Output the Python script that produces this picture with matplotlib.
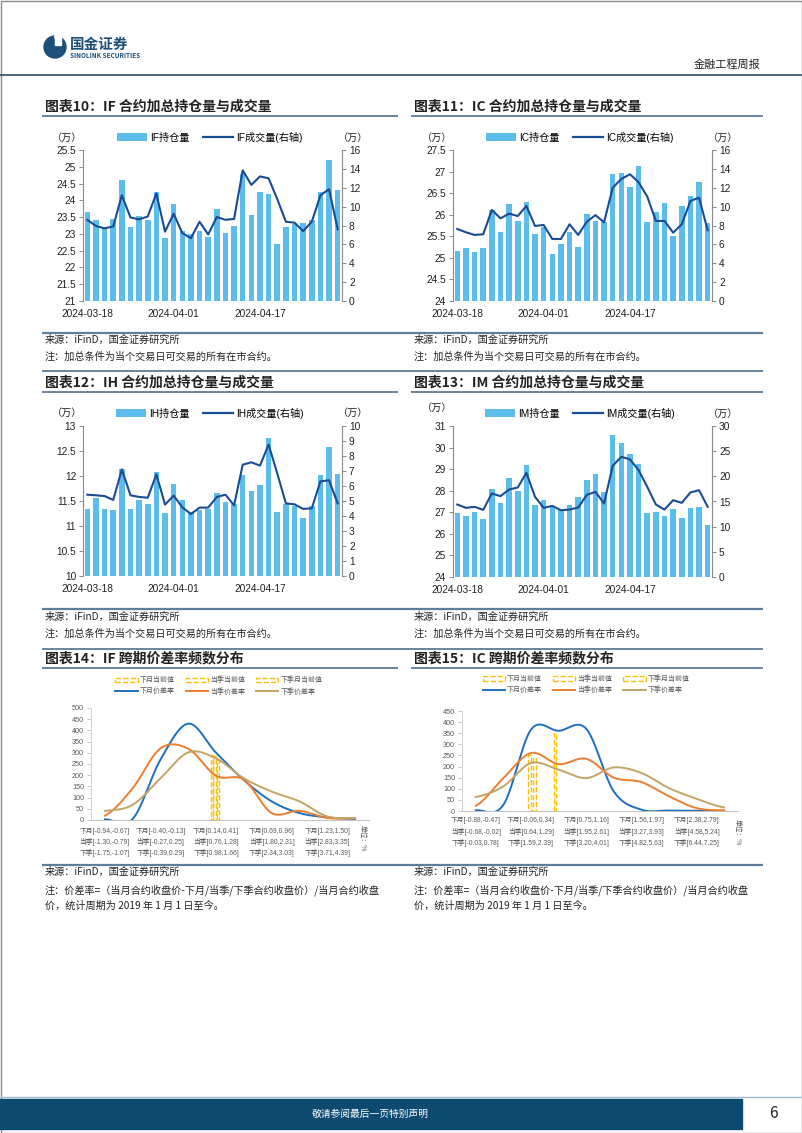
import numpy as np
import matplotlib
matplotlib.use('Agg')
import matplotlib.pyplot as plt
from matplotlib.patches import Rectangle, Circle, Patch
from matplotlib.lines import Line2D
from matplotlib.ticker import FuncFormatter

plt.rcParams['font.family'] = ['Liberation Sans', 'Noto Sans CJK SC']
plt.rcParams['axes.unicode_minus'] = False

W, H = 802, 1133

# ---------------- data ----------------
dates = ['2024-03-18', '2024-03-19', '2024-03-20', '2024-03-21', '2024-03-22',
         '2024-03-25', '2024-03-26', '2024-03-27', '2024-03-28', '2024-03-29',
         '2024-04-01', '2024-04-02', '2024-04-03', '2024-04-08', '2024-04-09',
         '2024-04-10', '2024-04-11', '2024-04-12', '2024-04-15', '2024-04-16',
         '2024-04-17', '2024-04-18', '2024-04-19', '2024-04-22', '2024-04-23',
         '2024-04-24', '2024-04-25', '2024-04-26', '2024-04-29', '2024-04-30']

if_hold = [23.66, 23.40, 23.20, 23.44, 24.61, 23.22, 23.52, 23.41, 24.24, 22.87,
           23.88, 23.08, 23.00, 23.10, 22.92, 23.75, 23.02, 23.24, 24.78, 23.56,
           24.26, 24.20, 22.70, 23.22, 23.30, 23.32, 23.40, 24.24, 25.21, 24.32]
if_vol = [8.6, 7.95, 7.7, 7.9, 11.2, 8.85, 8.65, 8.95, 11.4, 7.35,
          9.25, 7.2, 6.65, 8.4, 7.05, 8.9, 8.6, 8.7, 13.85, 12.3,
          13.2, 13.0, 10.8, 8.4, 8.3, 7.4, 8.4, 11.2, 11.85, 7.6]

ic_hold = [25.17, 25.22, 25.14, 25.24, 26.11, 25.61, 26.24, 25.85, 26.30, 25.55,
           25.72, 25.09, 25.31, 25.60, 25.25, 26.02, 25.85, 25.84, 26.94, 26.97,
           26.64, 27.12, 25.83, 26.06, 26.28, 25.50, 26.20, 26.43, 26.75, 25.80]
ic_vol = [7.63, 7.28, 7.0, 7.07, 9.65, 8.76, 9.26, 9.0, 10.07, 7.95,
          8.06, 6.57, 6.57, 8.13, 7.0, 8.4, 9.1, 8.34, 12.0, 12.93,
          13.43, 12.58, 11.06, 8.48, 8.48, 7.24, 8.13, 10.6, 10.95, 7.49]

ih_hold = [11.35, 11.56, 11.35, 11.32, 12.15, 11.35, 11.52, 11.45, 12.08, 11.27,
           11.84, 11.53, 11.28, 11.32, 11.35, 11.66, 11.49, 11.44, 12.03, 11.70,
           11.83, 12.77, 11.28, 11.45, 11.40, 11.17, 11.40, 12.03, 12.59, 12.05]
ih_vol = [5.42, 5.38, 5.33, 5.07, 7.11, 5.38, 5.27, 5.22, 6.78, 4.76,
          5.36, 4.58, 4.13, 4.56, 4.56, 5.27, 5.42, 4.71, 7.42, 7.58,
          7.36, 8.76, 6.84, 4.84, 4.78, 4.47, 4.51, 6.31, 6.38, 4.84]

im_hold = [26.97, 26.85, 27.00, 26.70, 28.06, 27.42, 28.57, 27.98, 29.19, 27.36,
           27.59, 27.28, 27.10, 27.36, 27.69, 28.49, 28.77, 27.94, 30.58, 30.20,
           29.68, 29.22, 26.96, 27.00, 26.82, 27.16, 26.73, 27.22, 27.25, 26.40]
im_vol = [14.4, 13.74, 13.94, 13.34, 16.6, 16.06, 17.39, 17.78, 20.7, 15.93,
          13.74, 14.13, 13.27, 13.4, 13.8, 16.32, 16.92, 14.6, 22.1, 23.89,
          23.36, 21.23, 17.92, 14.4, 13.4, 15.26, 14.73, 16.79, 17.25, 13.94]

# spread-rate frequency distributions (10 bins each)
if_next_month = [3, 5, 270, 430, 300, 178, 83, 31, 12, 5]
if_this_qtr = [19, 142, 320, 318, 197, 180, 31, 41, 9, 8]
if_next_qtr = [41, 68, 186, 302, 275, 186, 127, 83, 16, 9]
if_cur_pos = [3.85, 3.95, 4.07]
if_cur_val = [292, 285, 270]

ic_next_month = [3, 28, 366, 361, 370, 88, 6, 2, 1, 0]
ic_this_qtr = [24, 148, 261, 211, 235, 150, 130, 66, 13, 3]
ic_next_qtr = [63, 111, 216, 186, 148, 196, 171, 103, 55, 16]
ic_cur_pos = [1.95, 2.13, 2.87]
ic_cur_val = [250, 240, 352]

if_lab_m = ['[-0.94,-0.67]', '[-0.40,-0.13]', '[0.14,0.41]', '[0.69,0.96]', '[1.23,1.50]']
if_lab_q = ['[-1.30,-0.79]', '[-0.27,0.25]', '[0.76,1.28]', '[1.80,2.31]', '[2.83,3.35]']
if_lab_nq = ['[-1.75,-1.07]', '[-0.39,0.29]', '[0.98,1.66]', '[2.34,3.03]', '[3.71,4.39]']
ic_lab_m = ['[-0.88,-0.47]', '[-0.06,0.34]', '[0.75,1.16]', '[1.56,1.97]', '[2.38,2.79]']
ic_lab_q = ['[-0.68,-0.02]', '[0.64,1.29]', '[1.95,2.61]', '[3.27,3.93]', '[4.58,5.24]']
ic_lab_nq = ['[-0.03,0.78]', '[1.59,2.39]', '[3.20,4.01]', '[4.82,5.63]', '[6.44,7.25]']

# ---------------- styles ----------------
BAR_C = '#5CBCEC'
LINE_C = '#1A4B95'
RULE_C = '#3F6584'
TXT_C = '#222222'
BLUE = '#1F6FBF'
ORANGE = '#ED7D31'
BEIGE = '#C4A466'
YEL = '#FFC000'
GRAY = '#595959'

fig = plt.figure(figsize=(W / 100, H / 100), dpi=100)
bg = fig.add_axes([0, 0, 1, 1])
bg.set_xlim(0, W)
bg.set_ylim(H, 0)
bg.axis('off')


def rect_of(l, r, t, b):
    return [l / W, 1 - b / H, (r - l) / W, (b - t) / H]


def hline(y, x0, x1, color=RULE_C, lw=1.1):
    bg.plot([x0, x1], [y, y], color=color, lw=lw, solid_capstyle='butt')


def txt(x, y, s, size=7, **kw):
    kw.setdefault('va', 'center')
    kw.setdefault('ha', 'left')
    kw.setdefault('color', TXT_C)
    bg.text(x, y, s, fontsize=size, family=['Noto Sans CJK SC', 'DejaVu Sans'], **kw)


# page frame
bg.add_patch(Rectangle((0.5, 0.5), W - 1, H - 1, fill=False, ec='#8C8C8C', lw=1.0))

# header
bg.add_patch(Circle((55, 47), 11, color='#1B4F7A'))
bg.add_patch(Rectangle((55, 37), 6, 8, color='white'))
bg.add_patch(Circle((58, 37), 3.2, color='white'))
txt(70, 44, '国金证券', size=10.5, weight='bold', color='#1B4F7A')
txt(70, 55.5, 'SINOLINK SECURITIES', size=4.6, weight='bold', color='#1B4F7A')
txt(760, 65, '金融工程周报', size=8, ha='right')
hline(75, 0, W, color='#2E4B66', lw=1.2)


# section titles and rules
def title(x, y, s):
    bg.text(x, y, s, fontsize=10, weight='bold', style='italic', color=TXT_C,
            va='center', ha='left', family=['Noto Sans CJK SC', 'DejaVu Sans'])


title(45, 107, '图表10：IF 合约加总持仓量与成交量')
title(414, 107, '图表11：IC 合约加总持仓量与成交量')
hline(116, 42, 398)
hline(116, 411, 763)

title(45, 383, '图表12：IH 合约加总持仓量与成交量')
title(414, 383, '图表13：IM 合约加总持仓量与成交量')
hline(371, 42, 763)
hline(392, 42, 398)
hline(392, 411, 763)

title(45, 658, '图表14：IF 跨期价差率频数分布')
title(414, 658, '图表15：IC 跨期价差率频数分布')
hline(649, 42, 763)
hline(668, 42, 398)
hline(668, 411, 763)

# sources / notes
NS = 7.3
hline(333, 42, 763, color='#5D7F9C', lw=1.6)
hline(609, 42, 763, color='#5D7F9C', lw=1.6)
hline(865, 42, 763, color='#5D7F9C', lw=1.6)
for xx in (45, 414):
    txt(xx, 340, '来源：iFinD，国金证券研究所', size=NS)
    txt(xx, 357, '注：加总条件为当个交易日可交易的所有在市合约。', size=NS)
    txt(xx, 617, '来源：iFinD，国金证券研究所', size=NS)
    txt(xx, 634, '注：加总条件为当个交易日可交易的所有在市合约。', size=NS)
    txt(xx, 872, '来源：iFinD，国金证券研究所', size=NS)
    txt(xx, 890, '注：价差率=（当月合约收盘价-下月/当季/下季合约收盘价）/当月合约收盘', size=NS)
    txt(xx, 906, '价，统计周期为 2019 年 1 月 1 日至今。', size=NS)

# footer
hline(1097, 0, W, color='#9DBBD0', lw=1.0)
bg.add_patch(Rectangle((0, 1099), 742, 30, color='#0D4A70'))
txt(370, 1114, '敬请参阅最后一页特别声明', size=7, ha='center', color='white')
txt(773, 1114, '6', size=11, ha='center', color='#222222')


# ---------------- bar + line charts ----------------
def bar_chart(box, name, hold, vol, lims, lticks, rlims, rticks, wan_l, wan_r):
    l, r, t, b = box
    ax = fig.add_axes(rect_of(l, r, t, b))
    x = np.arange(len(hold))
    ax.bar(x, hold, width=0.64, color=BAR_C, zorder=2)
    ax.set_xlim(-0.5, len(hold) - 0.5)
    ax.set_ylim(*lims)
    ax.set_yticks(lticks)
    ax.yaxis.set_major_formatter(FuncFormatter(lambda v, p: f'{v:g}'))
    ax.set_xticks([0, 10, 20])
    ax.set_xticklabels([dates[0], dates[10], dates[20]])
    ax2 = ax.twinx()
    ax2.plot(x, vol, color=LINE_C, lw=1.5, zorder=3)
    ax2.set_ylim(*rlims)
    ax2.set_yticks(rticks)
    ax2.yaxis.set_major_formatter(FuncFormatter(lambda v, p: f'{v:g}'))
    for a in (ax, ax2):
        for s in ('top', 'bottom'):
            a.spines[s].set_visible(False)
        a.spines['left'].set_color('#8A8A8A')
        a.spines['right'].set_color('#8A8A8A')
        a.spines['left'].set_linewidth(0.8)
        a.spines['right'].set_linewidth(0.8)
    ax.spines['right'].set_visible(False)
    ax2.spines['left'].set_visible(False)
    ax.tick_params(axis='y', direction='out', length=3, width=0.7, color='#8A8A8A',
                   labelsize=7.3, pad=2, labelcolor=TXT_C)
    ax2.tick_params(axis='y', direction='out', length=3, width=0.7, color='#8A8A8A',
                    labelsize=7.3, pad=2, labelcolor=TXT_C)
    ax.tick_params(axis='x', length=0, labelsize=7.3, pad=6, labelcolor=TXT_C)
    handles = [Patch(facecolor=BAR_C, edgecolor='none'), Line2D([], [], color=LINE_C, lw=1.6)]
    ax2.legend(handles, [f'{name}持仓量', f'{name}成交量(右轴)'], loc='center',
               bbox_to_anchor=(0.49, 1.085), ncol=2, frameon=False, fontsize=7.3,
               handlelength=3.0, handleheight=0.85, columnspacing=1.3,
               handletextpad=0.3, borderpad=0, borderaxespad=0)
    txt(wan_l[0], wan_l[1], '（万）', size=7.3, ha='center')
    txt(wan_r[0], wan_r[1], '（万）', size=7.3, ha='center')


bar_chart((83, 342, 150, 301), 'IF', if_hold, if_vol, (21, 25.5), np.arange(21, 25.51, 0.5),
          (0, 16), np.arange(0, 16.1, 2), (67, 138), (353, 138))
bar_chart((453, 712, 150, 301), 'IC', ic_hold, ic_vol, (24, 27.5), np.arange(24, 27.51, 0.5),
          (0, 16), np.arange(0, 16.1, 2), (437, 138), (723, 138))
bar_chart((83, 342, 426, 576), 'IH', ih_hold, ih_vol, (10, 13), np.arange(10, 13.01, 0.5),
          (0, 10), np.arange(0, 10.1, 1), (67, 413), (353, 413))
bar_chart((453, 712, 426, 577), 'IM', im_hold, im_vol, (24, 31), np.arange(24, 31.1, 1),
          (0, 30), np.arange(0, 30.1, 5), (437, 408), (723, 414))


# ---------------- distribution charts ----------------
def smooth(vals, n=40):
    p = np.asarray(vals, float)
    xs, ys = [], []
    t = np.linspace(0, 1, n)
    for i in range(len(p) - 1):
        p0 = p[i - 1] if i > 0 else p[i]
        p3 = p[i + 2] if i + 2 < len(p) else p[i + 1]
        p1, p2 = p[i], p[i + 1]
        c1 = p1 + (p2 - p0) / 6
        c2 = p2 - (p3 - p1) / 6
        yy = (1 - t) ** 3 * p1 + 3 * (1 - t) ** 2 * t * c1 + 3 * (1 - t) * t ** 2 * c2 + t ** 3 * p2
        xs.append(i + t)
        ys.append(yy)
    return np.concatenate(xs), np.concatenate(ys)


def dist_chart(box, ymax, m, q, nq, cur_pos, cur_val, labs, row_y, unit_xy, leg_anchor):
    l, r, t, b = box
    ax = fig.add_axes(rect_of(l, r, t, b))
    ax.bar(cur_pos, cur_val, width=0.1, fill=False, edgecolor=YEL, linestyle='--', lw=1.0, zorder=2)
    for vals, c in ((m, BLUE), (q, ORANGE), (nq, BEIGE)):
        sx, sy = smooth(vals)
        ax.plot(sx, sy, color=c, lw=1.4, zorder=3)
    ax.set_xlim(-0.5, len(m) - 0.5)
    ax.set_ylim(0, ymax)
    ax.set_yticks(np.arange(0, ymax + 1, 50))
    ax.set_xticks([])
    for s in ('top', 'right'):
        ax.spines[s].set_visible(False)
    ax.spines['left'].set_color('#D0D0D0')
    ax.spines['bottom'].set_color('#BFBFBF')
    ax.spines['left'].set_linewidth(0.7)
    ax.spines['bottom'].set_linewidth(0.7)
    ax.tick_params(axis='y', length=3, width=0.6, color='#BFBFBF', labelsize=5.2,
                   labelcolor=GRAY, pad=2)
    tr = ax.get_xaxis_transform()
    for k, idx in enumerate([0, 2, 4, 6, 8]):
        for prefix, lab, yy in zip(('下月', '当季', '下季'), labs, row_y):
            ax.text(idx, yy, prefix + lab[k], transform=tr, ha='center', va='center',
                    fontsize=4.9, color=GRAY, clip_on=False)
    bg.text(unit_xy[0], unit_xy[1], '单位：%', rotation=270, fontsize=4.9, color=GRAY,
            ha='center', va='center', family=['Noto Sans CJK SC', 'DejaVu Sans'])
    hs = [Patch(facecolor='none', edgecolor=YEL, linestyle='--', lw=1.0),
          Line2D([], [], color=BLUE, lw=1.4),
          Patch(facecolor='none', edgecolor=YEL, linestyle='--', lw=1.0),
          Line2D([], [], color=ORANGE, lw=1.4),
          Patch(facecolor='none', edgecolor=YEL, linestyle='--', lw=1.0),
          Line2D([], [], color=BEIGE, lw=1.4)]
    lb = ['下月当前值', '下月价差率', '当季当前值', '当季价差率', '下季月当前值', '下季价差率']
    ax.legend(hs, lb, loc='center', bbox_to_anchor=leg_anchor, ncol=3, frameon=False,
              fontsize=5.0, labelcolor=GRAY, handlelength=3.2, handleheight=0.6,
              columnspacing=1.6, handletextpad=0.3, labelspacing=0.55,
              borderpad=0, borderaxespad=0)


dist_chart((91, 369, 708, 820), 500, if_next_month, if_this_qtr, if_next_qtr,
           if_cur_pos, if_cur_val, (if_lab_m, if_lab_q, if_lab_nq),
           (-0.10, -0.20, -0.295), (363, 838), (0.46, 1.195))
dist_chart((462, 738, 711, 811), 450, ic_next_month, ic_this_qtr, ic_next_qtr,
           ic_cur_pos, ic_cur_val, (ic_lab_m, ic_lab_q, ic_lab_nq),
           (-0.10, -0.21, -0.32), (738, 832), (0.45, 1.26))

fig.savefig('out.png', dpi=100)
